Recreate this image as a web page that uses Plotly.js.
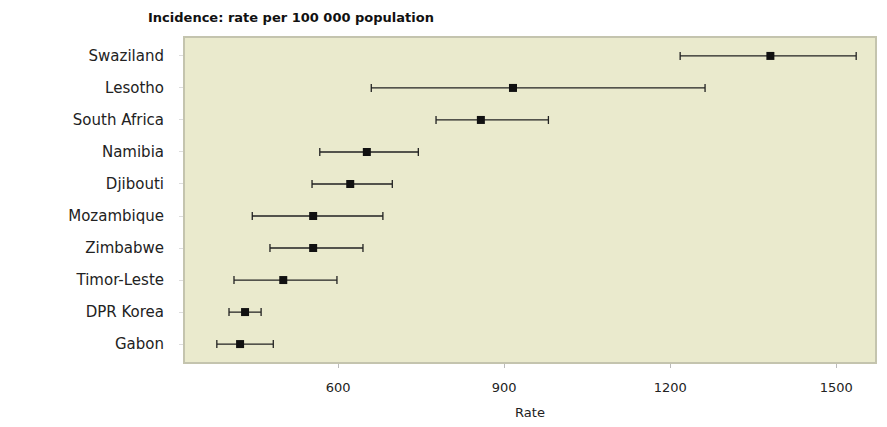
<!DOCTYPE html>
<html>
<head>
<meta charset="utf-8">
<script src="https://cdn.plot.ly/plotly-3.0.1.min.js"></script>
<style>html,body{margin:0;padding:0;background:#fff;}#chart{width:887px;height:427px;}</style>
</head>
<body>
<div id="chart"></div>
<script>
const countries = ["Swaziland","Lesotho","South Africa","Namibia","Djibouti","Mozambique","Zimbabwe","Timor-Leste","DPR Korea","Gabon"];
const rate  = [1381, 916, 858, 652, 622, 555, 555, 501, 432, 423];
const lower = [1218, 660, 777, 567, 553, 445, 477, 412, 403, 381];
const upper = [1536, 1263, 980, 745, 698, 681, 645, 598, 461, 483];
const xTicks = [600, 900, 1200, 1500];

const trace = {
  type: "scatter",
  mode: "markers",
  x: rate,
  y: countries,
  marker: {symbol: "square", size: 8, color: "#111"},
  error_x: {
    type: "data",
    symmetric: false,
    array: upper.map((u, i) => u - rate[i]),
    arrayminus: lower.map((l, i) => rate[i] - l),
    color: "#222",
    thickness: 1.3,
    width: 4
  },
  hoverinfo: "x+y"
};

const fam = "DejaVu Sans, Verdana, sans-serif";

const layout = {
  width: 887, height: 427,
  margin: {l: 185, r: 12, t: 38, b: 65},
  paper_bgcolor: "#ffffff",
  plot_bgcolor: "#eaeacd",
  font: {family: fam, size: 13, color: "#222"},
  showlegend: false,
  title: {
    text: "Incidence: rate per 100 000 population",
    x: 148 / 887, xref: "container", xanchor: "left",
    y: 1 - 17 / 427, yref: "container", yanchor: "middle",
    font: {family: fam, size: 13, color: "#111", weight: "bold"}
  },
  xaxis: {
    range: [323.5, 1570],
    tickvals: xTicks,
    ticktext: xTicks.map(String),
    ticks: "outside", ticklen: 4, tickcolor: "#bbb",
    ticklabelstandoff: 8,
    showgrid: false, zeroline: false,
    showline: true, linecolor: "#c4c4ae", linewidth: 2, mirror: true,
    tickfont: {family: fam, size: 13, color: "#222"},
    title: {text: "Rate", standoff: 14, font: {family: fam, size: 13, color: "#222"}}
  },
  yaxis: {
    type: "category",
    categoryorder: "array",
    categoryarray: countries,
    range: [9.56, -0.56],
    ticks: "outside", ticklen: 4, tickcolor: "#ddd",
    showgrid: false, zeroline: false,
    showline: true, linecolor: "#c4c4ae", linewidth: 2, mirror: true,
    ticklabelstandoff: 12,
    tickfont: {family: fam, size: 15, color: "#222"}
  }
};

Plotly.newPlot("chart", [trace], layout, {displayModeBar: false, staticPlot: true});
</script>
</body>
</html>
